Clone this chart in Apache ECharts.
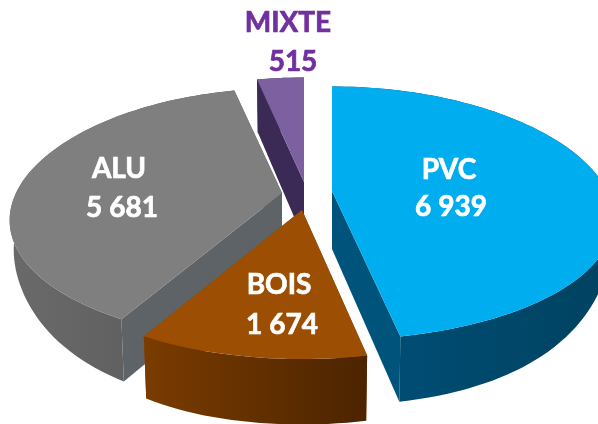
<!DOCTYPE html>
<html>
<head>
<meta charset="utf-8">
<style>html,body{margin:0;padding:0;background:#fff;overflow:hidden}#c{width:598px;height:424px}</style>
<script src="https://cdn.jsdelivr.net/npm/echarts@6/dist/echarts.min.js"></script>
</head>
<body>
<div id="c"></div>
<script>
var categories = ['PVC', 'BOIS', 'ALU', 'MIXTE'];
var values = [6939, 1674, 5681, 515];
var drawOrder = [3, 2, 0, 1];

var apexes = [[332, 191], [302, 210], [282, 193], [304, 182]];
var radiiX = [275, 262, 266, 262];
var topColors = ['#00aeef', '#9c4f02', '#7f7f7f', '#7d60a0'];
var wallColors = ['#00537a', '#8a4500', '#5d6367', '#3a2a55'];
var arcColors = [['#00507a', '#004260'], ['#7a3c00', '#4c2400'], ['#6a6a6a', '#585858'], ['#3a2a55', '#3a2a55']];
var labelCentres = [[449, 170, 451, 207], [279, 285, 282, 325], [119, 169, 122, 208], [288, 23, 293, 62]];
var textColors = ['#ffffff', '#ffffff', '#ffffff', '#7030a0'];

var K = 0.215, DEPTH = 58, SHRINK = 0.985;
var total = values.reduce(function (a, b) { return a + b; }, 0);

function project(apex, rx, theta) {
  var u = Math.sin(theta), v = -Math.cos(theta), s = 1 / (1 - K * v);
  return { x: apex[0] + rx * u * s, y: apex[1] + (122 - 5 * v) * v * s, s: s, u: u };
}
function lower(apex, p) {
  var d = DEPTH * Math.sqrt(p.s) * (1 - 0.55 * Math.pow(p.u, 4));
  return [apex[0] + (p.x - apex[0]) * SHRINK, p.y + d];
}
function fmt(n) { return String(n).replace(/\B(?=(\d{3})+$)/g, ' '); }

function renderItem(params, api) {
  var i = api.value(0);
  var before = 0;
  for (var j = 0; j < i; j++) before += values[j];
  var a0 = before / total * Math.PI * 2;
  var a1 = (before + api.value(1)) / total * Math.PI * 2;
  var apex = apexes[i], rx = radiiX[i];
  var arc = [];
  var n = Math.max(6, Math.round((a1 - a0) / 0.03));
  for (var t = 0; t <= n; t++) arc.push(project(apex, rx, a0 + (a1 - a0) * t / n));
  var first = arc[0], last = arc[arc.length - 1];
  var apexLow = lower(apex, { x: apex[0], y: apex[1], s: 1, u: 0 });
  var topPts = [[apex[0], apex[1]]].concat(arc.map(function (p) { return [p.x, p.y]; }));
  var arcWall = arc.map(function (p) { return [p.x, p.y]; })
    .concat(arc.slice().reverse().map(function (p) { return lower(apex, p); }));
  function wall(p) {
    return [[apex[0], apex[1]], [p.x, p.y], lower(apex, p), apexLow];
  }
  var children = [
    { type: 'polygon', shape: { points: wall(first) }, style: { fill: wallColors[i] } },
    { type: 'polygon', shape: { points: wall(last) }, style: { fill: wallColors[i] } },
    { type: 'polygon', shape: { points: arcWall }, style: {
      fill: new echarts.graphic.LinearGradient(0, 0, 1, 0, [
        { offset: 0, color: arcColors[i][0] }, { offset: 1, color: arcColors[i][1] }
      ]) } },
    { type: 'polygon', shape: { points: topPts }, style: { fill: topColors[i] } }
  ];
  var lc = labelCentres[i];
  var font = 'bold 28px Lato, Carlito, sans-serif';
  children.push({ type: 'text', z2: 10, style: { text: categories[i], x: lc[0], y: lc[1], align: 'center', verticalAlign: 'middle', font: font, fill: textColors[i], stroke: textColors[i], lineWidth: 0.7 } });
  children.push({ type: 'text', z2: 10, style: { text: fmt(api.value(1)), x: lc[2], y: lc[3], align: 'center', verticalAlign: 'middle', font: font, fill: textColors[i], stroke: textColors[i], lineWidth: 0.7 } });
  return { type: 'group', children: children };
}

var chart = echarts.init(document.getElementById('c'), null, { renderer: 'canvas', width: 598, height: 424 });
chart.setOption({
  animation: false,
  backgroundColor: '#ffffff',
  series: [{
    type: 'custom',
    coordinateSystem: 'none',
    renderItem: renderItem,
    data: drawOrder.map(function (i) { return [i, values[i]]; })
  }]
});
</script>
</body>
</html>
